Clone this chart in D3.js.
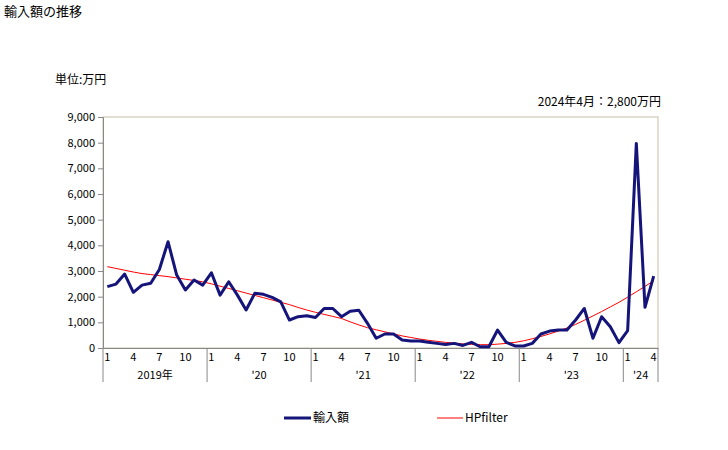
<!DOCTYPE html>
<html>
<head>
<meta charset="utf-8">
<script src="https://cdn.jsdelivr.net/npm/d3@7"></script>
<style>
  body { margin: 0; background: #fff; }
  text { font-family: "Noto Sans CJK JP", "DejaVu Sans", sans-serif; }
</style>
</head>
<body>
<div id="chart"></div>
<script>
// data
var years = [2019, 2020, 2021, 2022, 2023, 2024];
var yearLabels = ["2019年", "'20", "'21", "'22", "'23", "'24"];
var monthTicks = [1, 4, 7, 10];
var yTicks = [0, 1000, 2000, 3000, 4000, 5000, 6000, 7000, 8000, 9000];

// 2019/1 - 2024/4 (万円)
var imports = [
  2390, 2490, 2880, 2170, 2450, 2520, 3060, 4140, 2840, 2260, 2650, 2450,
  2930, 2060, 2580, 2060, 1480, 2130, 2090, 1970, 1800, 1090, 1220, 1260,
  1190, 1540, 1540, 1220, 1430, 1470, 960, 380, 545, 545, 310, 270,
  270, 220, 180, 140, 180, 100, 220, 50, 50, 700, 220, 80,
  80, 180, 545, 660, 700, 700, 1090, 1540, 380, 1220, 830, 210,
  675, 7970, 1585, 2800
];
var hpFilter = [
  3170, 3100, 3030, 2960, 2900, 2860, 2820, 2780, 2730, 2680, 2630, 2580,
  2500, 2410, 2320, 2230, 2140, 2050, 1960, 1870, 1780, 1690, 1580, 1480,
  1390, 1310, 1230, 1150, 1020, 900, 790, 710, 630, 550, 470, 410,
  350, 300, 260, 220, 190, 160, 140, 130, 130, 150, 180, 220,
  280, 360, 450, 550, 660, 780, 920, 1080, 1250, 1420, 1600, 1780,
  1980, 2190, 2400, 2620
];

var months = [];
years.forEach(function(y) {
  for (var m = 1; m <= 12; m++) {
    if (months.length < imports.length) months.push({ year: y, month: m, key: y + "-" + m });
  }
});

var svgWidth = 728;
var svgHeight = 450;
var margin = { top: 117, right: 70, bottom: 102, left: 103 };
var width = svgWidth - margin.left - margin.right;
var height = svgHeight - margin.top - margin.bottom;

var svg = d3.select("#chart")
  .append("svg")
  .attr("width", svgWidth)
  .attr("height", svgHeight);

svg.append("text")
  .attr("x", 4).attr("y", 16)
  .attr("font-size", 13)
  .text("輸入額の推移");

svg.append("text")
  .attr("x", 55).attr("y", 84)
  .attr("font-size", 12)
  .text("単位:万円");

svg.append("text")
  .attr("x", 661).attr("y", 106)
  .attr("text-anchor", "end")
  .attr("font-size", 12)
  .text("2024年4月：2,800万円");

var chartGroup = svg.append("g")
  .attr("transform", `translate(${margin.left}, ${margin.top})`);

var xScale = d3.scaleBand()
  .domain(months.map(d => d.key))
  .range([0, width])
  .padding(0);

var yScale = d3.scaleLinear()
  .domain([0, 9000])
  .range([height, 0]);

var xPos = (d, i) => xScale(months[i].key) + xScale.bandwidth() / 2;

// plot frame
chartGroup.append("rect")
  .attr("width", width)
  .attr("height", height)
  .attr("fill", "none")
  .attr("stroke", "#c8c0a8");

// y axis
var leftAxis = d3.axisLeft(yScale)
  .tickValues(yTicks)
  .tickSize(5)
  .tickPadding(3)
  .tickFormat(d3.format(","));

var yAxis = chartGroup.append("g").call(leftAxis);
yAxis.select(".domain").attr("stroke", "#888");
yAxis.selectAll(".tick line").attr("stroke", "#888");
yAxis.selectAll("text").attr("font-size", 11).attr("fill", "#000");

// x axis: month labels
var labelMonths = months.filter(d => monthTicks.indexOf(d.month) >= 0 || d === months[months.length - 1]);
var bottomAxis = d3.axisBottom(xScale)
  .tickValues(labelMonths.map(d => d.key))
  .tickSize(0)
  .tickPadding(5)
  .tickFormat(k => k.split("-")[1]);

var xAxis = chartGroup.append("g")
  .attr("transform", `translate(0, ${height})`)
  .call(bottomAxis);
xAxis.select(".domain").attr("stroke", "#888");
xAxis.selectAll("text").attr("font-size", 11).attr("fill", "#000");

// year separators
var bounds = years.map(y => xScale(y + "-1")).concat([width]);
chartGroup.selectAll(".sep")
  .data(bounds)
  .enter()
  .append("line")
  .attr("x1", d => d).attr("x2", d => d)
  .attr("y1", height).attr("y2", height + 34)
  .attr("stroke", "#888");

// year labels
chartGroup.selectAll(".yearLabel")
  .data(years)
  .enter()
  .append("text")
  .attr("x", (d, i) => (bounds[i] + bounds[i + 1]) / 2)
  .attr("y", height + 31)
  .attr("text-anchor", "middle")
  .attr("font-size", 11)
  .text((d, i) => yearLabels[i]);

// lines
var importLine = d3.line()
  .x(xPos)
  .y(d => yScale(d));

chartGroup.append("path")
  .datum(hpFilter)
  .attr("fill", "none")
  .attr("stroke", "#ff0000")
  .attr("stroke-width", 1)
  .attr("d", importLine);

chartGroup.append("path")
  .datum(imports)
  .attr("fill", "none")
  .attr("stroke", "#14147a")
  .attr("stroke-width", 3)
  .attr("stroke-linejoin", "round")
  .attr("d", importLine);

// legend
var legend = svg.append("g");
legend.append("line")
  .attr("x1", 284).attr("x2", 311).attr("y1", 418).attr("y2", 418)
  .attr("stroke", "#14147a").attr("stroke-width", 3);
legend.append("text")
  .attr("x", 313).attr("y", 422)
  .attr("font-size", 12)
  .text("輸入額");
legend.append("line")
  .attr("x1", 437).attr("x2", 463).attr("y1", 418).attr("y2", 418)
  .attr("stroke", "#ff0000").attr("stroke-width", 1);
legend.append("text")
  .attr("x", 465).attr("y", 422)
  .attr("font-size", 12)
  .text("HPfilter");
</script>
</body>
</html>
